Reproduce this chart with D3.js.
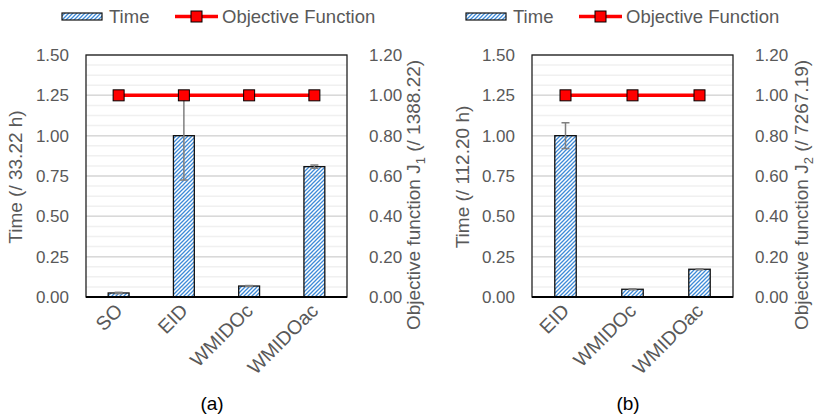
<!DOCTYPE html>
<html>
<head>
<meta charset="utf-8">
<script src="https://cdn.jsdelivr.net/npm/d3@7"></script>
<style>
  body { margin: 0; background: #fff; }
  text { font-family: "Liberation Sans", Arial, sans-serif; }
</style>
</head>
<body>
<script>
// values (time normalised, objective normalised)
const catsA = ["SO", "EID", "WMIDOc", "WMIDOac"];
const timeA = [0.025, 1.00, 0.068, 0.808];
const timeErrA = [0.004, 0.275, 0.003, 0.01];
const objA = [1.00, 1.00, 1.00, 1.00];

const catsB = ["EID", "WMIDOc", "WMIDOac"];
const timeB = [1.00, 0.048, 0.172];
const timeErrB = [0.08, 0.003, 0.003];
const objB = [1.00, 1.00, 1.00];

const leftTicks = [0, 0.25, 0.5, 0.75, 1.0, 1.25, 1.5];
const rightTicks = [0, 0.2, 0.4, 0.6, 0.8, 1.0, 1.2];

const width = 815, height = 417;
const grey = "#595959";

const svg = d3.select("body").append("svg")
    .attr("width", width)
    .attr("height", height);

// hatch pattern for the time bars
const defs = svg.append("defs");
defs.append("pattern")
    .attr("id", "hatch")
    .attr("patternUnits", "userSpaceOnUse")
    .attr("width", 4).attr("height", 4)
  .append("path")
    .attr("d", "M-1,1 l2,-2 M0,4 l4,-4 M3,5 l2,-2")
    .attr("stroke", "#3d8ad8")
    .attr("stroke-width", 1.3);

function panel(opt) {
    const g = svg.append("g");
    const top = 55, bottom = 297;

    const x = d3.scaleBand().domain(opt.cats).range([opt.left, opt.right]);
    const y = d3.scaleLinear().domain([0, 1.5]).range([bottom, top]);
    const y2 = d3.scaleLinear().domain([0, 1.2]).range([bottom, top]);

    // minor + major gridlines
    const minor = d3.range(0, 1.2001, 0.05);
    g.selectAll(".minor").data(minor).enter().append("line")
        .attr("x1", opt.left).attr("x2", opt.right)
        .attr("y1", d => y2(d)).attr("y2", d => y2(d))
        .attr("stroke", "#f0f0f0").attr("stroke-width", 1.5);
    g.selectAll(".major").data(leftTicks).enter().append("line")
        .attr("x1", opt.left).attr("x2", opt.right)
        .attr("y1", d => y(d)).attr("y2", d => y(d))
        .attr("stroke", "#d9d9d9").attr("stroke-width", 1.5);

    // axes (text only, no tick marks)
    const ax = g.append("g")
        .attr("transform", `translate(${opt.left},0)`)
        .call(d3.axisLeft(y).tickValues(leftTicks).tickFormat(d3.format(".2f")).tickSize(0).tickPadding(17));
    const ax2 = g.append("g")
        .attr("transform", `translate(${opt.right},0)`)
        .call(d3.axisRight(y2).tickValues(rightTicks).tickFormat(d3.format(".2f")).tickSize(0).tickPadding(22));
    [ax, ax2].forEach(a => {
        a.select(".domain").remove();
        a.selectAll("text").attr("fill", grey).attr("font-size", 17)
            .attr("font-family", "Liberation Sans, Arial, sans-serif");
    });

    const bw = x.bandwidth() * 0.32;

    // bars
    g.selectAll(".bar").data(opt.cats).enter().append("rect")
        .attr("x", d => x(d) + x.bandwidth() / 2 - bw / 2)
        .attr("y", (d, i) => y(opt.time[i]))
        .attr("width", bw)
        .attr("height", (d, i) => bottom - y(opt.time[i]))
        .attr("fill", "url(#hatch)")
        .attr("stroke", "#111").attr("stroke-width", 1.3);

    // error bars
    const eb = g.selectAll(".err").data(opt.cats).enter().append("g")
        .attr("stroke", "#7f7f7f").attr("stroke-width", 1.5);
    eb.append("line")
        .attr("x1", d => x(d) + x.bandwidth() / 2).attr("x2", d => x(d) + x.bandwidth() / 2)
        .attr("y1", (d, i) => y(opt.time[i] - opt.err[i]))
        .attr("y2", (d, i) => y(opt.time[i] + opt.err[i]));
    [-1, 1].forEach(s => {
        eb.append("line")
            .attr("x1", d => x(d) + x.bandwidth() / 2 - 4).attr("x2", d => x(d) + x.bandwidth() / 2 + 4)
            .attr("y1", (d, i) => y(opt.time[i] + s * opt.err[i]))
            .attr("y2", (d, i) => y(opt.time[i] + s * opt.err[i]));
    });

    // plot frame
    g.append("rect")
        .attr("x", opt.left).attr("y", top)
        .attr("width", opt.right - opt.left).attr("height", bottom - top)
        .attr("fill", "none").attr("stroke", "#222").attr("stroke-width", 1.3);
    g.append("line")
        .attr("x1", opt.left).attr("x2", opt.right)
        .attr("y1", bottom).attr("y2", bottom)
        .attr("stroke", "#000").attr("stroke-width", 2.2);

    // objective function line + markers
    const line = d3.line()
        .x(d => x(d[0]) + x.bandwidth() / 2)
        .y(d => y2(d[1]));
    const pts = opt.cats.map((c, i) => [c, opt.obj[i]]);
    g.append("path").datum(pts)
        .attr("d", line).attr("fill", "none")
        .attr("stroke", "#ff0000").attr("stroke-width", 3.5);
    g.selectAll(".mk").data(pts).enter().append("rect")
        .attr("x", d => x(d[0]) + x.bandwidth() / 2 - 5.5)
        .attr("y", d => y2(d[1]) - 5.5)
        .attr("width", 11).attr("height", 11)
        .attr("fill", "#ff0000").attr("stroke", "#000").attr("stroke-width", 1);

    // category labels
    g.selectAll(".cat").data(opt.cats).enter().append("text")
        .attr("transform", d => `translate(${x(d) + x.bandwidth() / 2 + 5},${bottom + 15}) rotate(-45)`)
        .attr("text-anchor", "end")
        .attr("fill", grey).attr("font-size", 19.5)
        .text(d => d);

    // axis titles
    g.append("text")
        .attr("transform", `translate(${opt.leftTitleX},177) rotate(-90)`)
        .attr("text-anchor", "middle")
        .attr("fill", grey).attr("font-size", 19)
        .text(opt.leftTitle);
    const rt = g.append("text")
        .attr("transform", `translate(${opt.rightTitleX},195) rotate(-90)`)
        .attr("text-anchor", "middle")
        .attr("fill", grey).attr("font-size", 19);
    rt.append("tspan").text("Objective function J");
    rt.append("tspan").attr("font-size", 13).attr("dy", 5).text(opt.sub);
    rt.append("tspan").attr("dy", -5).text(" (/ " + opt.norm + ")");

    // legend
    const lg = g.append("g").attr("transform", `translate(${opt.legendX},0)`);
    lg.append("rect").attr("x", 0).attr("y", 13).attr("width", 40).attr("height", 7)
        .attr("fill", "url(#hatch)").attr("stroke", "#111").attr("stroke-width", 1.2);
    lg.append("text").attr("x", 47).attr("y", 23).attr("fill", grey).attr("font-size", 18.5).text("Time");
    lg.append("line").attr("x1", 113).attr("x2", 156).attr("y1", 16.5).attr("y2", 16.5)
        .attr("stroke", "#ff0000").attr("stroke-width", 3.5);
    lg.append("rect").attr("x", 129).attr("y", 11).attr("width", 11).attr("height", 11)
        .attr("fill", "#ff0000").attr("stroke", "#000").attr("stroke-width", 1);
    lg.append("text").attr("x", 160).attr("y", 23).attr("fill", grey).attr("font-size", 18.5).text("Objective Function");

    // panel caption
    g.append("text")
        .attr("x", opt.capX).attr("y", 410)
        .attr("text-anchor", "middle")
        .attr("font-family", "Lato, 'Open Sans', sans-serif")
        .attr("font-size", 19).attr("fill", "#000")
        .text(opt.caption);
}

panel({
    cats: catsA, time: timeA, err: timeErrA, obj: objA,
    left: 86, right: 347, leftTitleX: 22, rightTitleX: 420,
    leftTitle: "Time (/ 33.22 h)", sub: "1", norm: "1388.22",
    legendX: 62, capX: 212, caption: "(a)"
});

panel({
    cats: catsB, time: timeB, err: timeErrB, obj: objB,
    left: 532, right: 733, leftTitleX: 469, rightTitleX: 808,
    leftTitle: "Time (/ 112.20 h)", sub: "2", norm: "7267.19",
    legendX: 466, capX: 628, caption: "(b)"
});
</script>
</body>
</html>
